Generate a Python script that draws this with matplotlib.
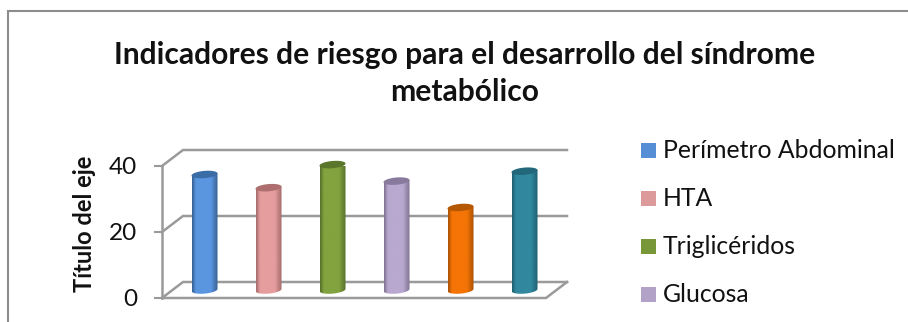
import numpy as np
import matplotlib
matplotlib.use("Agg")
import matplotlib.pyplot as plt
from matplotlib.colors import LinearSegmentedColormap
from matplotlib.patches import Polygon, Rectangle

plt.rcParams['font.family'] = ['Lato', 'DejaVu Sans']

labels = ["Perímetro Abdominal", "HTA", "Triglicéridos", "Glucosa"]
values = [35, 31, 38, 33, 25, 36]
bar_colors = ["#5a96e0", "#e59d9d", "#82a33f", "#b9a8cf", "#f57406", "#31889f"]
edge_colors = ["#376092", "#a56a6a", "#56702a", "#7f7391", "#a85004", "#1f5f70"]
cap_colors = ["#3a6ca6", "#ae6e6e", "#5a762a", "#887a9c", "#b55804", "#22677a"]
legend_colors = ["#558ed5", "#dc9a9a", "#779739", "#b3a2c7"]
yticks = [0, 20, 40]

W, H = 908, 322
GRID = "#9a9a9a"

# front plane of the plot box, in pixels
left, right, y0, y40 = 162, 546, 298, 166
depth_x = 21 / 64      # depth offset in category units
depth_y = 16 / 3.3     # depth offset in value units
bar_w = 26 / 64
cap_h = 1.1            # half height of the cylinder ends
tilt = 1.6             # the ellipses rise towards the right

fig = plt.figure(figsize=(W / 100, H / 100), dpi=100, facecolor="white")

# outer chart border, right and bottom edges run off the image
fig.add_artist(Rectangle((8 / W, -0.1), 1.1, 1.1 - 11 / H, transform=fig.transFigure,
                         fill=False, edgecolor="#8c8c8c", linewidth=1.5))

ax = fig.add_axes([left / W, 1 - y0 / H, (right - left) / W, (y0 - y40) / H])
ax.patch.set_visible(False)
for s in ax.spines.values():
    s.set_visible(False)
ax.set_xticks([])
ax.set_yticks(yticks)
ax.tick_params(axis="y", length=6, width=1.5, color=GRID, labelsize=17.5, pad=12, labelcolor="#111111")

x_l, x_r = -0.5, 5.5

# walls and floor
for v in yticks:
    ax.plot([x_l, x_l + depth_x, x_r + depth_x], [v, v + depth_y, v + depth_y],
            color=GRID, lw=1.8, clip_on=False, solid_joinstyle="miter", zorder=1)
ax.plot([x_l, x_l], [0, 40], color=GRID, lw=1.8, clip_on=False, zorder=1)
ax.plot([x_l, x_r, x_r + depth_x], [0, 0, depth_y], color=GRID, lw=1.8, clip_on=False, zorder=1)

# cylinders sit midway into the depth of the box
for i, v in enumerate(values):
    xc = i + depth_x / 2
    base = depth_y / 2
    top = v + depth_y / 2

    t = np.linspace(0, np.pi, 30)
    xs = xc + bar_w / 2 * np.cos(t)
    top_edge = top + tilt * (xs - xc)
    bot_edge = base - cap_h * np.sin(t) + tilt * (xs - xc)
    outline = np.column_stack([np.r_[xs[::-1], xs], np.r_[top_edge[::-1], bot_edge]])

    cmap = LinearSegmentedColormap.from_list(
        "cyl", [edge_colors[i], bar_colors[i], bar_colors[i], edge_colors[i]])
    grad = np.interp(np.linspace(0, 1, 64), [0, 0.18, 0.68, 1], [0, 0.4, 0.6, 1])[None, :]
    im = ax.imshow(grad, cmap=cmap, extent=(xc - bar_w / 2, xc + bar_w / 2, base - 3, top + 3),
                   aspect="auto", zorder=3, interpolation="bilinear")
    im.set_clip_path(Polygon(outline, transform=ax.transData))

    t = np.linspace(0, 2 * np.pi, 60)
    xs = xc + bar_w / 2 * np.cos(t)
    ys = top + cap_h * np.sin(t) + tilt * (xs - xc)
    ax.fill(xs, ys, color=cap_colors[i], zorder=4, clip_on=False, lw=0)

ax.set_xlim(-0.5, 5.5)
ax.set_ylim(0, 40)

fig.text(84 / W, 1 - 224 / H, "Título del eje", rotation=90, ha="center", va="center",
         fontsize=17, fontweight="bold", color="#111111")

fig.text(465 / W, 1 - 55 / H, "Indicadores de riesgo para el desarrollo del síndrome",
         ha="center", va="center", fontsize=21.6, fontweight="bold", color="#111111")
fig.text(465 / W, 1 - 92 / H, "metabólico",
         ha="center", va="center", fontsize=21.6, fontweight="bold", color="#111111")

# legend entries are spaced 48 px apart
for i, name in enumerate(labels):
    yc = 150.5 + 48 * i
    fig.add_artist(Rectangle((641 / W, 1 - (yc + 7.5) / H), 15 / W, 15 / H, transform=fig.transFigure,
                             facecolor=legend_colors[i], edgecolor="none"))
    fig.text(663 / W, 1 - yc / H, name, ha="left", va="center", fontsize=17.8, color="#111111")

fig.savefig("out.png", dpi=100, facecolor="white")
